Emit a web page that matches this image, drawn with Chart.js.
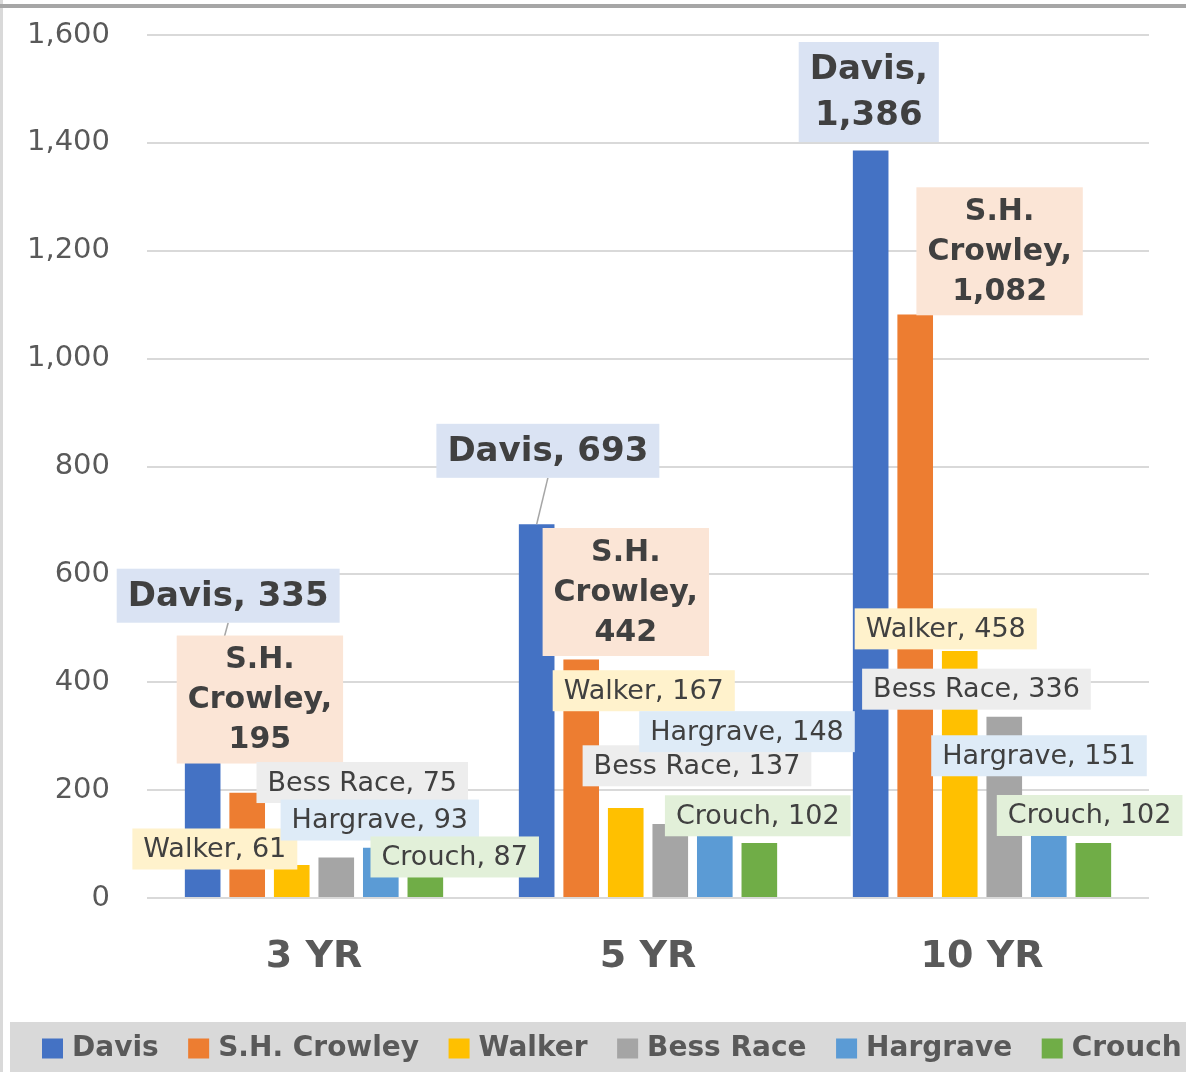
<!DOCTYPE html>
<html>
<head>
<meta charset="utf-8">
<script src="https://cdn.jsdelivr.net/npm/chart.js"></script>
<style>
html,body{margin:0;padding:0;background:#fff;overflow:hidden}
canvas{display:block}
</style>
</head>
<body>
<canvas id="c" width="1186" height="1072"></canvas>
<script>
// ---------------- data ----------------
const categories = ['3 YR', '5 YR', '10 YR'];
const seriesNames = ['Davis', 'S.H. Crowley', 'Walker', 'Bess Race', 'Hargrave', 'Crouch'];
const davis    = [335, 693, 1386];
const crowley  = [195, 442, 1082];
const walker   = [61, 167, 458];
const bessRace = [75, 137, 336];
const hargrave = [93, 148, 151];
const crouch   = [87, 102, 102];
const yMin = 0, yMax = 1600, yStep = 200;

// ---------------- styles / label placement ----------------
const FONT = '"DejaVu Sans", Verdana, sans-serif';
const seriesColors = ['#4472C4', '#ED7D31', '#FFC000', '#A5A5A5', '#5B9BD5', '#70AD47'];
const labelBg = ['#DAE3F3', '#FBE5D6', '#FFF2CC', '#EDEDED', '#DEEBF7', '#E2F0D9'];
const labelStyles = [
  {size: 34, weight: 'bold', lh: 46},
  {size: 30, weight: 'bold', lh: 40},
  {size: 27, weight: 'normal', lh: 33},
  {size: 27, weight: 'normal', lh: 33},
  {size: 27, weight: 'normal', lh: 33},
  {size: 27, weight: 'normal', lh: 33}
];
// label box centre offset from the bar's top-centre, in pixels [series][category]
const labelOffsets = [
  [[25.5, -121.6], [11.2, -73.4], [-1.9, -58.4]],
  [[12.7, -93.3], [44.6, -67.6], [84.4, -63.1]],
  [[-76.9, -16.1], [18, -117.2], [-14, -22.1]],
  [[26, -75], [26.7, -58.3], [-27.8, -27.6]],
  [[-1, -27.8], [32.2, -86.5], [-9.8, -60.8]],
  [[29.4, 5.9], [-1.6, -27.2], [-3.7, -27.5]]
];
const labelWrap = [
  [false, false, true],
  [true, true, true],
  [false, false, false],
  [false, false, false],
  [false, false, false],
  [false, false, false]
];
const labelLeader = [
  [true, true, false],
  [false, false, false],
  [false, false, false],
  [false, false, false],
  [false, false, false],
  [false, false, false]
];
const padX = 11, padY = 4;

const seriesData = [davis, crowley, walker, bessRace, hargrave, crouch];

const framePlugin = {
  id: 'frame',
  beforeDraw(chart) {
    const ctx = chart.ctx;
    ctx.save();
    ctx.fillStyle = '#FFFFFF';
    ctx.fillRect(0, 0, chart.width, chart.height);
    ctx.fillStyle = '#D9D9D9';
    ctx.fillRect(10, 1022, chart.width - 10, chart.height - 1022);
    ctx.fillStyle = '#D9D9D9';
    ctx.fillRect(0, 0, 3, chart.height);
    ctx.fillStyle = '#A6A6A6';
    ctx.fillRect(0, 4, chart.width, 4);
    ctx.restore();
  },
  afterDraw(chart) {
    const ctx = chart.ctx;
    ctx.save();
    ctx.font = 'bold 28px ' + FONT;
    ctx.textBaseline = 'middle';
    ctx.textAlign = 'left';
    let x = 42;
    const cy = 1048.5;
    chart.data.datasets.forEach((ds) => {
      ctx.fillStyle = ds.backgroundColor;
      ctx.fillRect(x, cy - 10, 21, 20);
      ctx.fillStyle = '#595959';
      ctx.fillText(ds.label, x + 30, cy);
      x += 30 + ctx.measureText(ds.label).width + 29.5;
    });
    ctx.restore();
  }
};

const labelPlugin = {
  id: 'boxLabels',
  afterDatasetsDraw(chart) {
    const ctx = chart.ctx;
    ctx.save();
    chart.data.datasets.forEach((ds, s) => {
      const meta = chart.getDatasetMeta(s);
      const st = labelStyles[s];
      meta.data.forEach((bar, c) => {
        const text = ds.label + ', ' + ds.data[c].toLocaleString('en-US');
        const lines = labelWrap[s][c] ? text.split(' ') : [text];
        ctx.font = st.weight + ' ' + st.size + 'px ' + FONT;
        const tw = Math.max(...lines.map(l => ctx.measureText(l).width));
        const w = tw + 2 * padX;
        const h = lines.length * st.lh + 2 * padY;
        const cx = bar.x + labelOffsets[s][c][0];
        const cy = bar.y + labelOffsets[s][c][1];
        if (labelLeader[s][c]) {
          ctx.strokeStyle = '#A6A6A6';
          ctx.lineWidth = 1.5;
          ctx.beginPath();
          ctx.moveTo(cx, cy + h / 2);
          ctx.lineTo(bar.x, bar.y);
          ctx.stroke();
        }
        ctx.fillStyle = labelBg[s];
        ctx.fillRect(cx - w / 2, cy - h / 2, w, h);
        ctx.fillStyle = '#404040';
        ctx.textAlign = 'center';
        ctx.textBaseline = 'middle';
        lines.forEach((ln, i) => {
          const ly = cy - (lines.length - 1) / 2 * st.lh + i * st.lh;
          ctx.fillText(ln, cx, ly + 1);
        });
      });
    });
    ctx.restore();
  }
};

new Chart(document.getElementById('c'), {
  type: 'bar',
  data: {
    labels: categories,
    datasets: seriesNames.map((name, i) => ({
      label: name,
      data: seriesData[i],
      backgroundColor: seriesColors[i],
      borderWidth: 0,
      categoryPercentage: 0.8,
      barPercentage: 0.8
    }))
  },
  options: {
    responsive: false,
    animation: false,
    layout: {padding: {left: 0, right: 37, top: 35, bottom: 0}},
    plugins: {
      legend: {display: false},
      tooltip: {enabled: false},
      title: {display: false}
    },
    scales: {
      x: {
        grid: {display: false, drawTicks: false},
        border: {display: false},
        ticks: {
          color: '#595959',
          font: {family: FONT, size: 38, weight: 'bold'},
          padding: 36
        },
        afterFit(scale) { scale.height = 174; }
      },
      y: {
        min: yMin, max: yMax,
        grid: {color: '#D9D9D9', lineWidth: 2, drawTicks: false},
        border: {display: false},
        ticks: {
          stepSize: yStep,
          color: '#595959',
          font: {family: FONT, size: 29},
          padding: 37
        },
        afterFit(scale) {
          scale.width = 147;
          scale.paddingTop = 0;
          scale.paddingBottom = 0;
        }
      }
    }
  },
  plugins: [framePlugin, labelPlugin]
});
</script>
</body>
</html>
